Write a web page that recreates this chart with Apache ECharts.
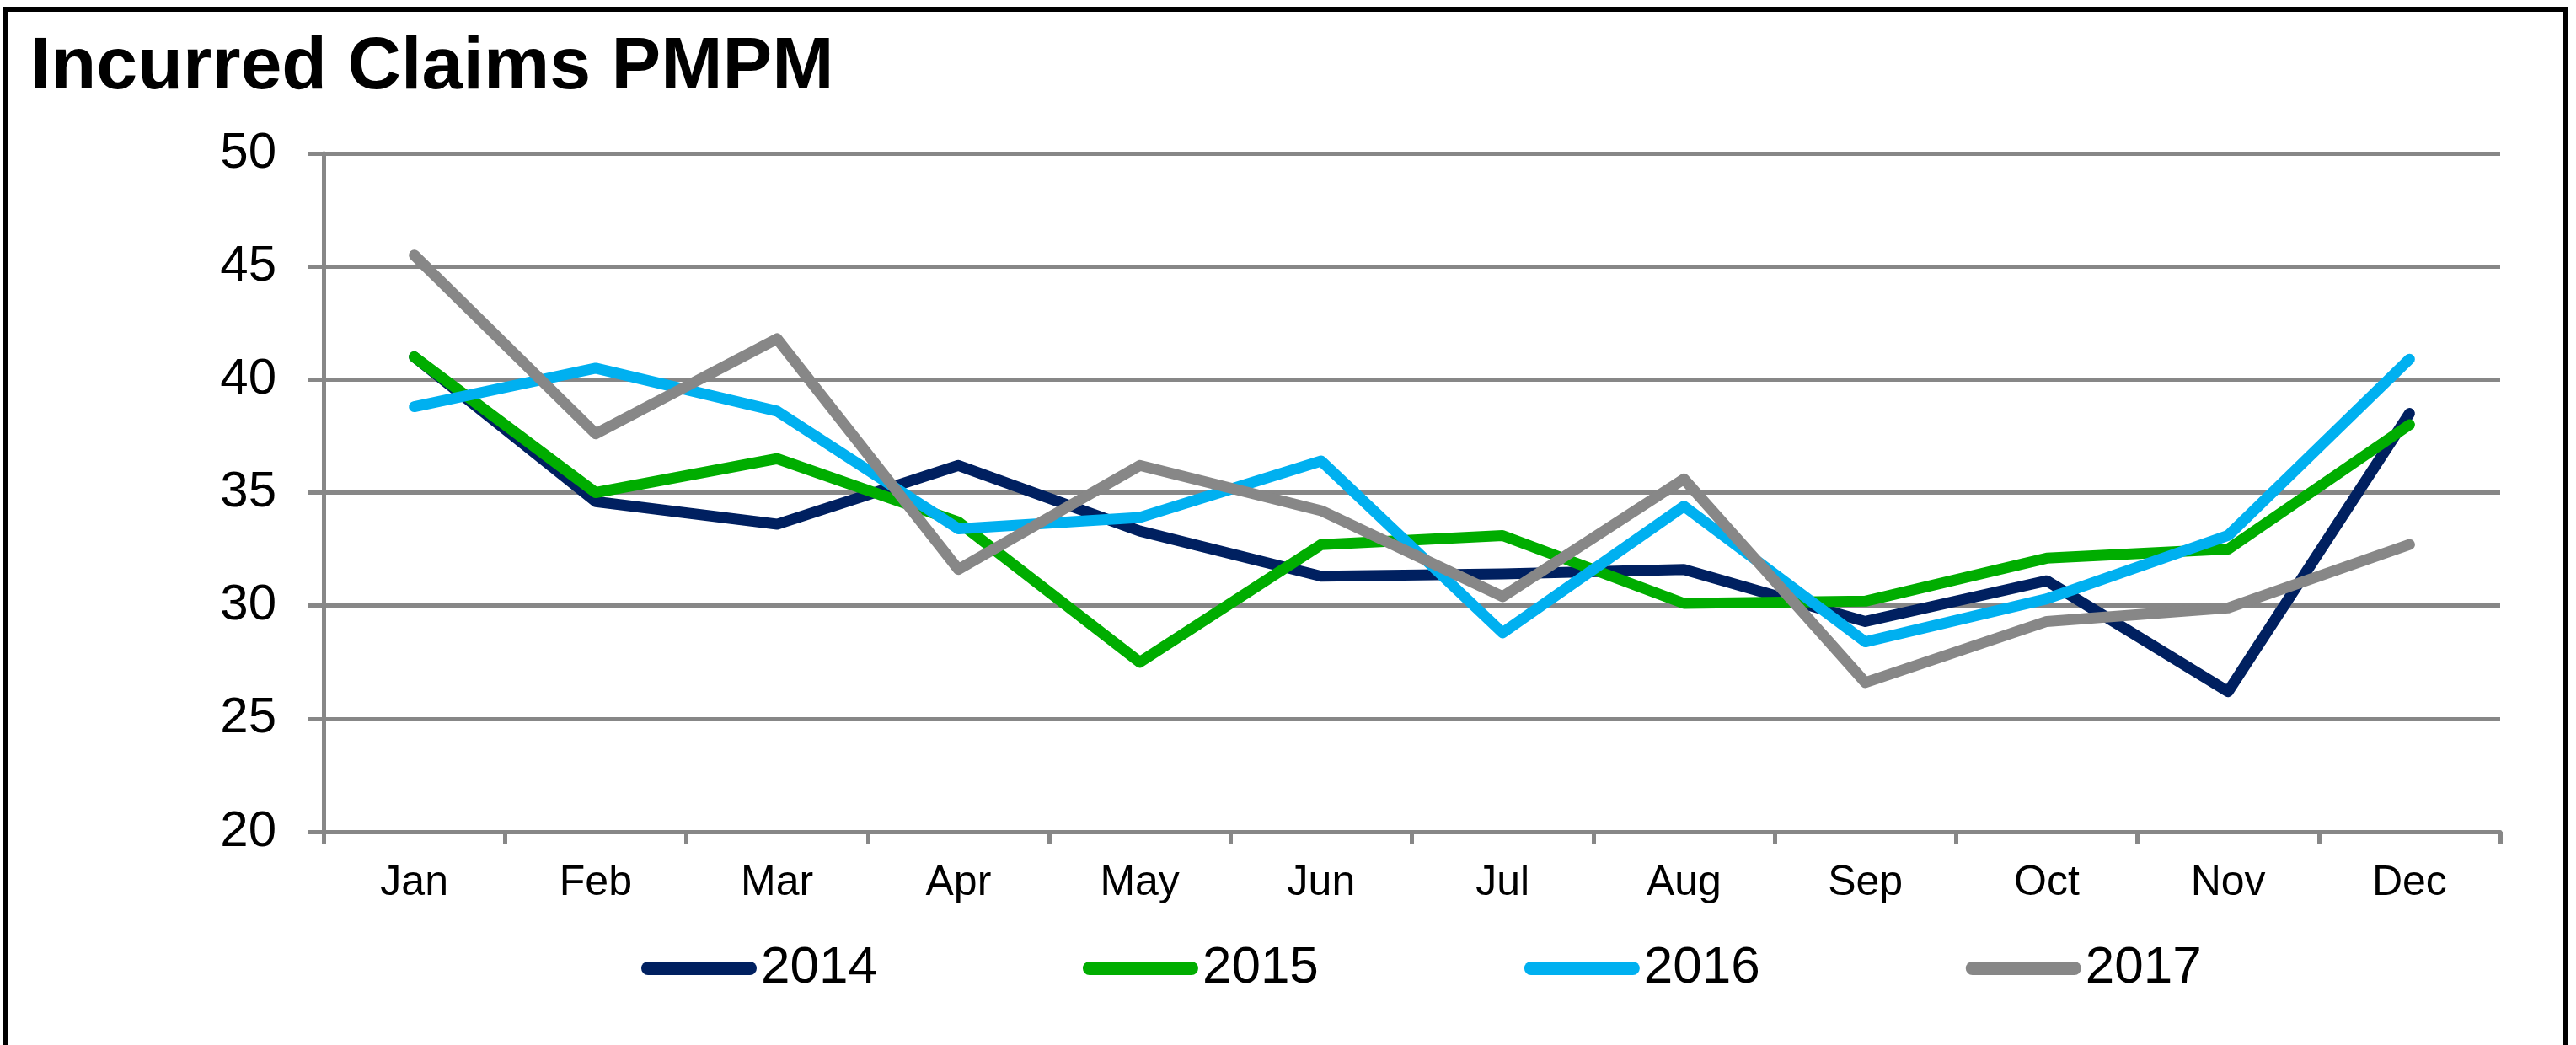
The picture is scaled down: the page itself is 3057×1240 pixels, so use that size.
<!DOCTYPE html>
<html>
<head>
<meta charset="utf-8">
<script src="https://cdn.jsdelivr.net/npm/echarts@6/dist/echarts.min.js"></script>
<style>
html,body{margin:0;padding:0;background:#fff;}
#chart{width:3057px;height:1240px;}
</style>
</head>
<body>
<div id="chart"></div>
<script>
var months = ['Jan','Feb','Mar','Apr','May','Jun','Jul','Aug','Sep','Oct','Nov','Dec'];
var seriesNames = ['2014','2015','2016','2017'];
var y2014 = [41.0, 34.6, 33.6, 36.2, 33.3, 31.3, 31.4, 31.6, 29.3, 31.1, 26.2, 38.5];
var y2015 = [41.0, 35.0, 36.5, 33.7, 27.5, 32.7, 33.1, 30.1, 30.2, 32.1, 32.5, 38.0];
var y2016 = [38.8, 40.5, 38.6, 33.4, 33.9, 36.4, 28.8, 34.4, 28.4, 30.3, 33.1, 40.9];
var y2017 = [45.5, 37.6, 41.8, 31.6, 36.2, 34.2, 30.4, 35.6, 26.6, 29.3, 29.9, 32.7];
var yTicks = [20, 25, 30, 35, 40, 45, 50];
var colors = ['#002060', '#00AD00', '#00B0F0', '#878787'];

var values = [y2014, y2015, y2016, y2017];
var FONT = '"Liberation Sans", Arial, sans-serif';
var GRAY = '#878787';

var chart = echarts.init(document.getElementById('chart'), null, {renderer: 'canvas'});
var option = {
  animation: false,
  backgroundColor: '#ffffff',
  title: {
    text: 'Incurred Claims PMPM',
    left: 31,
    top: 32,
    textStyle: {fontFamily: FONT, fontSize: 88, fontWeight: 'bold', color: '#000'}
  },
  graphic: [{
    type: 'rect',
    shape: {x: 7, y: 11, width: 3038, height: 1400},
    style: {fill: 'none', stroke: '#000', lineWidth: 6},
    silent: true
  }],
  legend: {
    data: seriesNames,
    left: 756,
    top: 1113,
    itemWidth: 137,
    itemHeight: 16,
    itemGap: 244,
    icon: 'path://M8,0 L129,0 A8,8 0 0 1 129,16 L8,16 A8,8 0 0 1 8,0 Z',
    itemStyle: {borderWidth: 0},
    textStyle: {fontFamily: FONT, fontSize: 62, color: '#000', lineHeight: 62}
  },
  grid: {left: 384, right: 90, top: 182, bottom: 253, containLabel: false},
  xAxis: {
    type: 'category',
    data: months,
    boundaryGap: true,
    axisLine: {show: true, lineStyle: {color: GRAY, width: 5}},
    axisTick: {show: true, length: 14, alignWithLabel: false, interval: 0, lineStyle: {color: GRAY, width: 5}},
    axisLabel: {interval: 0, margin: 36, fontFamily: FONT, fontSize: 50, color: '#000'},
    splitLine: {show: false}
  },
  yAxis: {
    type: 'value',
    min: yTicks[0],
    max: yTicks[yTicks.length - 1],
    interval: 5,
    axisLine: {show: true, lineStyle: {color: GRAY, width: 5}},
    axisTick: {show: true, length: 18, lineStyle: {color: GRAY, width: 5}},
    axisLabel: {margin: 56, fontFamily: FONT, fontSize: 60, color: '#000'},
    splitLine: {show: true, lineStyle: {color: GRAY, width: 5}}
  },
  series: seriesNames.map(function (name, i) {
    return {
      name: name,
      type: 'line',
      data: values[i],
      showSymbol: false,
      symbol: 'none',
      color: colors[i],
      lineStyle: {color: colors[i], width: 13, join: 'round', cap: 'round'},
      itemStyle: {color: colors[i]},
      z: 2 + i
    };
  })
};
chart.setOption(option);
</script>
</body>
</html>
